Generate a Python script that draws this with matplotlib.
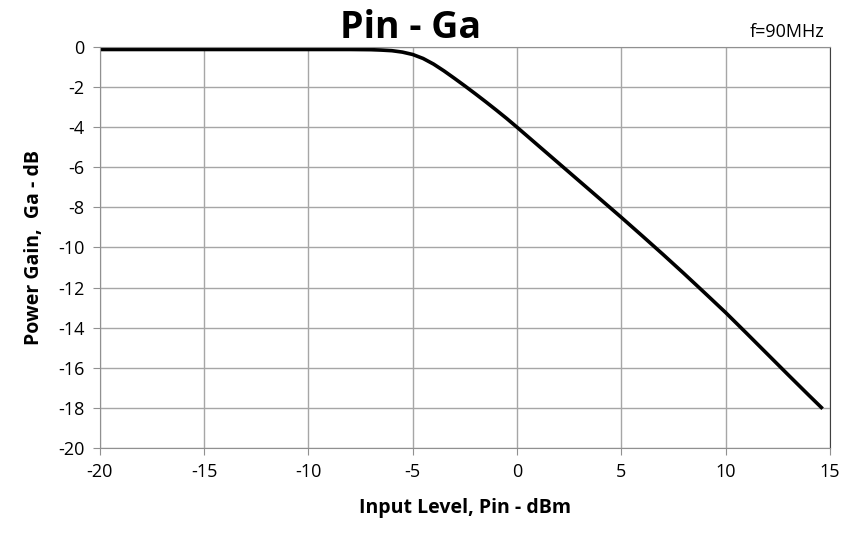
import numpy as np
import matplotlib
matplotlib.use('Agg')
import matplotlib.pyplot as plt

# input level (dBm) and power gain (dB)
pin = [-20, -15, -10, -8, -7, -6.5, -6, -5.5, -5, -4.5, -4, -3.5, -3, -2.5, -2, -1.5, -1,
       -0.5, 0, 1, 2, 3, 4, 5, 6, 7, 8, 9, 10, 11, 12, 13, 14, 14.65]
ga = [-0.12, -0.12, -0.12, -0.12, -0.13, -0.15, -0.18, -0.25, -0.37, -0.57, -0.85, -1.19,
      -1.56, -1.94, -2.33, -2.73, -3.14, -3.56, -4.0, -4.9, -5.8, -6.7, -7.6, -8.5, -9.42,
      -10.35, -11.3, -12.27, -13.25, -14.28, -15.32, -16.36, -17.39, -18.05]

xticks = [-20, -15, -10, -5, 0, 5, 10, 15]
yticks = list(range(-20, 1, 2))

plt.rcParams['font.family'] = ['Open Sans', 'DejaVu Sans']
plt.rcParams['axes.unicode_minus'] = False

fig = plt.figure(figsize=(8.46, 5.35), dpi=100)
ax = fig.add_axes([0.118, 0.163, 0.863, 0.749])

ax.plot(pin, ga, color='black', lw=2.6, solid_capstyle='butt', solid_joinstyle='round')

ax.set_xlim(-20, 15)
ax.set_ylim(-20, 0)
ax.set_xticks(xticks)
ax.set_yticks(yticks)
ax.grid(True, color='#a6a6a6', lw=1)
ax.set_axisbelow(True)
for s in ['left', 'bottom', 'top']:
    ax.spines[s].set_color('#909090')
ax.spines['right'].set_color('#404040')
ax.tick_params(direction='out', length=5, color='#909090', labelsize=13, pad=6)

ax.set_xlabel('Input Level, Pin - dBm', fontsize=14, fontweight='bold', labelpad=12)
ax.set_ylabel('Power Gain,  Ga - dB', fontsize=14, fontweight='bold', labelpad=10)
fig.text(0.485, 0.948, 'Pin - Ga', fontsize=27, fontweight='bold', ha='center', va='center')
fig.text(0.975, 0.94, 'f=90MHz', fontsize=13, ha='right', va='center')

fig.savefig('out.png', dpi=100)
